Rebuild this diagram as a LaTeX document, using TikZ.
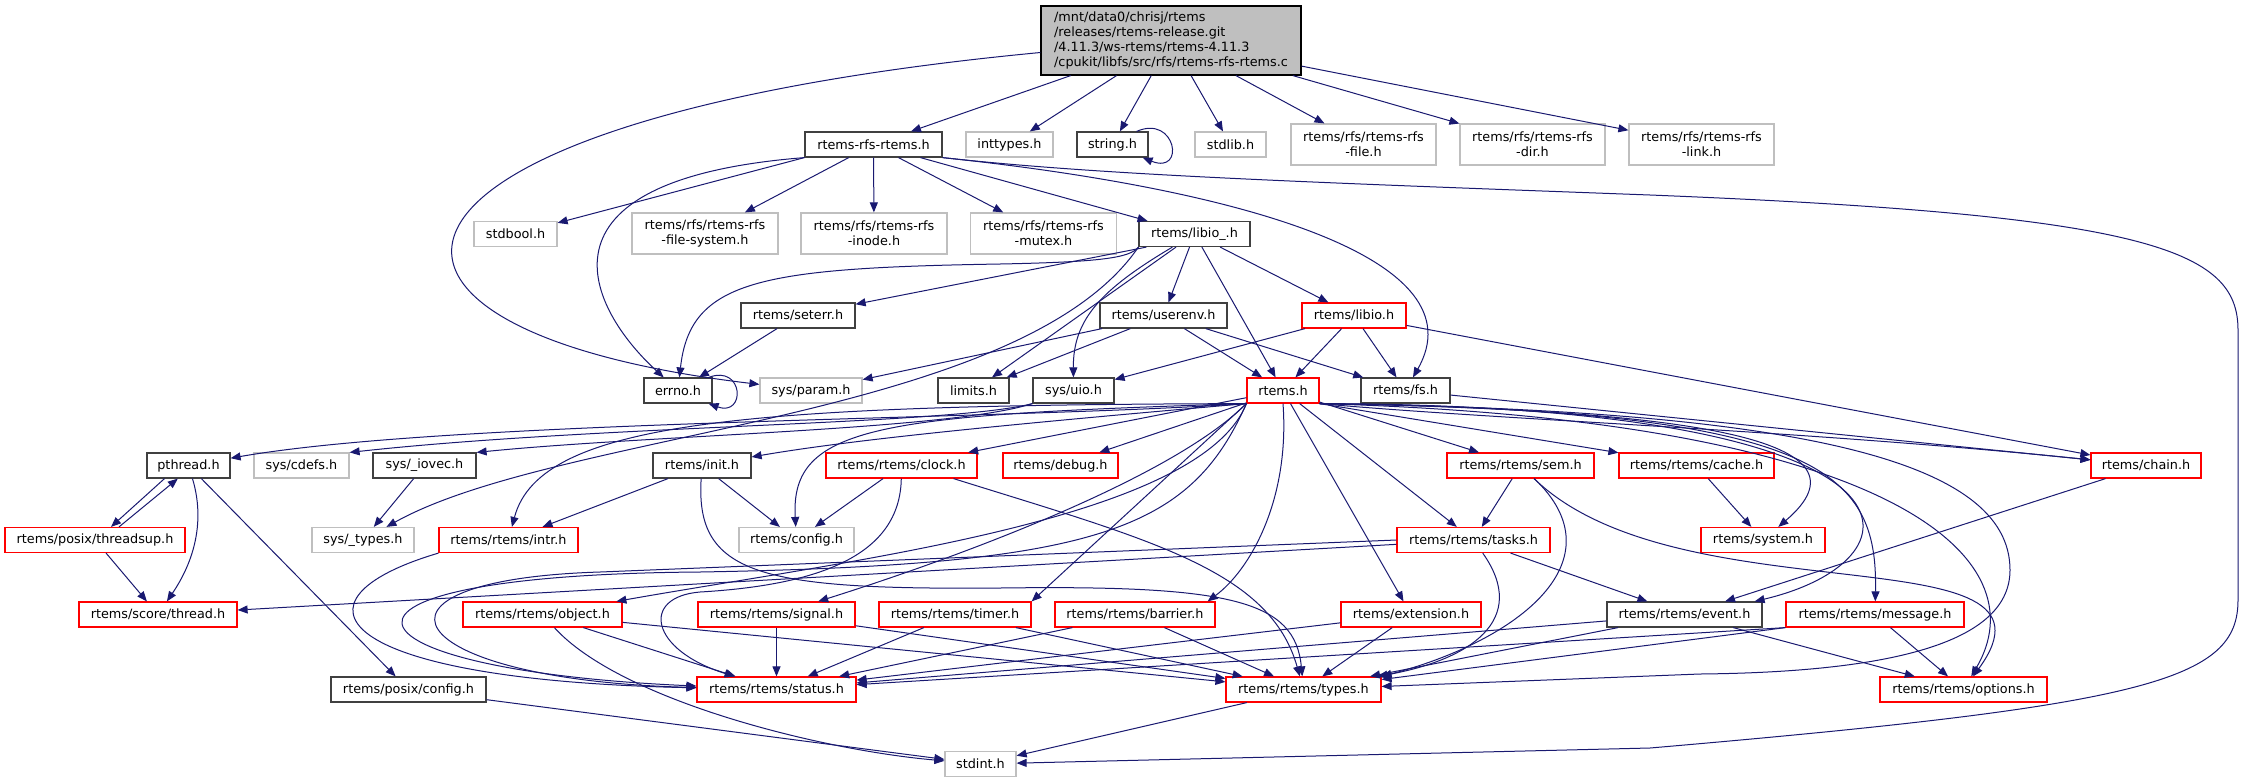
\documentclass[tikz,border=0pt]{standalone}
\usepackage{fontspec}
\setmainfont{DejaVu Sans}
\usetikzlibrary{arrows.meta}

\definecolor{incblue}{HTML}{191970}
\definecolor{hgray}{HTML}{BFBFBF}
\definecolor{hdark}{HTML}{404040}

\tikzset{
  hfile/.style={draw=hdark, line width=0.9pt, fill=white, inner sep=0pt,
    minimum height=18.75pt, align=center, font=\fontsize{9.6}{11.2}\selectfont},
  hgraybox/.style={hfile, draw=hgray},
  hredbox/.style={hfile, draw=red},
  boxw/.style={minimum width=#1*0.75pt},
  boxh/.style={minimum height=#1*0.75pt},
  inc/.style={draw=incblue, line width=0.75pt, -{Triangle[length=7.5pt, width=6pt]}},
}

\begin{document}
\begin{tikzpicture}[x=0.75pt, y=-0.75pt]
  \useasboundingbox (0,0) rectangle (2245,783);

  % Files
  \node[hfile, fill=hgray, draw=black, align=left, boxw=260, boxh=69] (root) at (1171,40.5)
    {/mnt/data0/chrisj/rtems\\/releases/rtems-release.git\\/4.11.3/ws-rtems/rtems-4.11.3\\/cpukit/libfs/src/rfs/rtems-rfs-rtems.c};
  \node[hfile, boxw=137] (rfsrtems) at (873.5,144.5) {rtems-rfs-rtems.h};
  \node[hgraybox, boxw=87] (inttypes) at (1009.5,144.5) {inttypes.h};
  \node[hfile, boxw=71] (stringh) at (1112.5,144.5) {string.h};
  \node[hgraybox, boxw=71] (stdlibh) at (1230.5,144.5) {stdlib.h};
  \node[hgraybox, boxw=145, boxh=41] (rfsfile) at (1363.5,144.5) {rtems/rfs/rtems-rfs\\-file.h};
  \node[hgraybox, boxw=145, boxh=41] (rfsdir) at (1532.5,144.5) {rtems/rfs/rtems-rfs\\-dir.h};
  \node[hgraybox, boxw=145, boxh=41] (rfslink) at (1701.5,144.5) {rtems/rfs/rtems-rfs\\-link.h};

  \node[hgraybox, boxw=83] (stdbool) at (515.5,234) {stdbool.h};
  \node[hgraybox, boxw=146, boxh=41] (rfsfs) at (705,233.5) {rtems/rfs/rtems-rfs\\-file-system.h};
  \node[hgraybox, boxw=146, boxh=41] (rfsinode) at (874,233.5) {rtems/rfs/rtems-rfs\\-inode.h};
  \node[hgraybox, boxw=146, boxh=41] (rfsmutex) at (1043.5,233.5) {rtems/rfs/rtems-rfs\\-mutex.h};
  \node[hfile, boxw=111] (libiopriv) at (1194.5,234) {rtems/libio\_.h};

  \node[hfile, boxw=114] (seterr) at (798,315.5) {rtems/seterr.h};
  \node[hfile, boxw=127] (userenv) at (1163.5,315.5) {rtems/userenv.h};
  \node[hredbox, boxw=104] (libio) at (1354,315.5) {rtems/libio.h};

  \node[hfile, boxw=68] (errno) at (678,390.5) {errno.h};
  \node[hgraybox, boxw=102] (sysparam) at (811,390.5) {sys/param.h};
  \node[hfile, boxw=71] (limits) at (973.5,390.5) {limits.h};
  \node[hfile, boxw=81] (sysuio) at (1073.5,390.5) {sys/uio.h};
  \node[hredbox, boxw=72] (rtemsh) at (1283,390.5) {rtems.h};
  \node[hfile, boxw=89] (fsh) at (1405.5,390.5) {rtems/fs.h};

  \node[hfile, boxw=83] (pthread) at (188.5,465.5) {pthread.h};
  \node[hgraybox, boxw=95] (syscdefs) at (301.5,465.5) {sys/cdefs.h};
  \node[hfile, boxw=103] (sysiovec) at (424.5,465.5) {sys/\_iovec.h};
  \node[hfile, boxw=98] (init) at (702,465.5) {rtems/init.h};
  \node[hredbox, boxw=151] (clock) at (901.5,465.5) {rtems/rtems/clock.h};
  \node[hredbox, boxw=115] (debug) at (1060.5,465.5) {rtems/debug.h};
  \node[hredbox, boxw=147] (sem) at (1520.5,465.5) {rtems/rtems/sem.h};
  \node[hredbox, boxw=155] (cache) at (1696.5,465.5) {rtems/rtems/cache.h};
  \node[hredbox, boxw=110] (chain) at (2146,465.5) {rtems/chain.h};

  \node[hredbox, boxw=180] (threadsup) at (95,540) {rtems/posix/threadsup.h};
  \node[hgraybox, boxw=102] (systypes) at (363,540) {sys/\_types.h};
  \node[hredbox, boxw=139] (intr) at (508.5,540) {rtems/rtems/intr.h};
  \node[hgraybox, boxw=115] (config) at (796.5,540) {rtems/config.h};
  \node[hredbox, boxw=153] (tasks) at (1473.5,540) {rtems/rtems/tasks.h};
  \node[hredbox, boxw=124] (system) at (1763,540) {rtems/system.h};

  \node[hredbox, boxw=158] (scthread) at (158,614.5) {rtems/score/thread.h};
  \node[hredbox, boxw=159] (object) at (542.5,614.5) {rtems/rtems/object.h};
  \node[hredbox, boxw=157] (signal) at (776.5,614.5) {rtems/rtems/signal.h};
  \node[hredbox, boxw=152] (timer) at (955,614.5) {rtems/rtems/timer.h};
  \node[hredbox, boxw=160] (barrier) at (1135,614.5) {rtems/rtems/barrier.h};
  \node[hredbox, boxw=140] (extension) at (1411,614.5) {rtems/extension.h};
  \node[hfile, boxw=155] (event) at (1684.5,614.5) {rtems/rtems/event.h};
  \node[hredbox, boxw=178] (message) at (1875,614.5) {rtems/rtems/message.h};

  \node[hfile, boxw=155] (posixconfig) at (408.5,689.5) {rtems/posix/config.h};
  \node[hredbox, boxw=159] (status) at (776.5,689.5) {rtems/rtems/status.h};
  \node[hredbox, boxw=155] (types) at (1303.5,689.5) {rtems/rtems/types.h};
  \node[hredbox, boxw=167] (options) at (1963.5,689.5) {rtems/rtems/options.h};

  \node[hgraybox, boxw=71] (stdint) at (980.5,764) {stdint.h};

  % Straight includes
  \foreach \s/\t in {root/rfsrtems, root/inttypes, root/stringh, root/stdlibh,
      root/rfsfile, root/rfsdir, root/rfslink,
      rfsrtems/rfsfs, rfsrtems/rfsinode, rfsrtems/rfsmutex, rfsrtems/libiopriv,
      libiopriv/limits, libiopriv/userenv, libiopriv/libio, libiopriv/rtemsh,
      userenv/sysparam, userenv/limits, userenv/rtemsh, userenv/fsh,
      libio/sysuio, libio/rtemsh, libio/fsh, libio/chain, fsh/chain,
      seterr/errno, sysiovec/systypes, pthread/posixconfig, threadsup/scthread,
      rtemsh/clock, rtemsh/debug, rtemsh/sem, rtemsh/tasks, rtemsh/extension,
      init/intr, init/config, clock/config, cache/system, sem/tasks,
      object/status, object/types, signal/status, signal/types,
      timer/status, timer/types, barrier/status, barrier/types,
      extension/status, extension/types, tasks/scthread, tasks/event,
      chain/event, event/status, event/types, event/options,
      message/options, types/stdint, posixconfig/stdint}
    \draw[inc] (\s) -- (\t);

  \draw[inc] (rfsrtems.south west) -- (stdbool);
  \draw[inc] ([xshift=6pt]libiopriv.south west) -- (seterr);
  \draw[inc] (rtemsh.south east) -- (cache);
  \draw[inc] (rtemsh.south west) -- (timer.north east);
  \draw[inc] (message.south west) -- (status);
  \draw[inc] (message.south west) -- (types);
  \draw[inc] ([xshift=-18pt]pthread.south) -- ([xshift=12pt]threadsup.north);
  \draw[inc] ([xshift=18pt]threadsup.north) -- ([xshift=-8pt]pthread.south);

  % Self includes
  \draw[inc] ([xshift=-9pt]stringh.north east) .. controls (1176,114) and (1186,175) .. ([xshift=-4.5pt]stringh.south east);
  \draw[inc] ([xshift=-3pt]errno.north east) .. controls (744,364) and (746,417) .. ([xshift=-3pt]errno.south east);

  % Curved includes
  \draw[inc] ([yshift=-9pt]root.west) .. controls (330,120) and (300,330) .. (sysparam);
  \draw[inc] (rfsrtems.south west) .. controls (520,180) and (590,310) .. (errno);
  \draw[inc] (rfsrtems.south east) .. controls (1250,190) and (1480,260) .. (fsh);
  \draw[inc] (rfsrtems.south east) .. controls (1100,175) and (1300,182) .. (1650,195)
    .. controls (2150,215) and (2238,250) .. (2238,330) -- (2238,600)
    .. controls (2238,680) and (2150,705) .. (1650,748) -- (stdint);
  \draw[inc] (libiopriv.south west) .. controls (1130,258) and (1100,262) .. (1000,264)
    .. controls (760,268) and (690,280) .. (errno);
  \draw[inc] (libiopriv) .. controls (1100,290) and (1073,320) .. (sysuio);
  \draw[inc] (libiopriv.south west) .. controls (1020,420) and (560,430) .. (systypes);
  \draw[inc] (rtemsh.south west) .. controls (1000,420) and (450,420) .. (pthread);
  \draw[inc] (sysuio.south west) .. controls (950,425) and (600,425) .. (syscdefs.north east);
  \draw[inc] (sysuio.south west) .. controls (950,430) and (650,435) .. (sysiovec.north east);
  \draw[inc] (pthread) .. controls (205,520) and (195,560) .. (scthread);
  \draw[inc] (rtemsh.south west) .. controls (1000,425) and (850,440) .. (init);
  \draw[inc] (rtemsh.south west) .. controls (750,405) and (540,420) .. (intr);
  \draw[inc] (rtemsh.south west) .. controls (880,415) and (790,425) .. (config);
  \draw[inc] (rtemsh.south west) .. controls (1200,520) and (850,560) .. (object);
  \draw[inc] (rtemsh.south west) .. controls (1170,480) and (950,560) .. (signal);
  \draw[inc] (rtemsh.south) .. controls (1290,500) and (1250,570) .. ([xshift=-6pt]barrier.north east);
  \draw[inc] (rtemsh.south west) .. controls (1190,530) and (1100,565) .. (700,572)
    .. controls (280,575) and (330,670) .. (status);
  \draw[inc] (rtemsh.south east) .. controls (1500,420) and (1800,430) .. (chain);
  \draw[inc] (rtemsh.south east) .. controls (1700,410) and (1880,440) .. (system);
  \draw[inc] (rtemsh.south east) .. controls (1950,405) and (1930,560) .. ([xshift=-6pt]event.north east);
  \draw[inc] (rtemsh.south east) .. controls (1820,410) and (1878,470) .. (message);
  \draw[inc] (rtemsh.south east) .. controls (1900,420) and (2040,560) .. (options);
  \draw[inc] (rtemsh.south east) .. controls (1800,410) and (2010,460) .. (2010,570)
    .. controls (2010,640) and (1900,672) .. (1700,674) -- (types);
  \draw[inc] (init) .. controls (695,575) and (760,590) .. (1000,588)
    .. controls (1230,585) and (1295,600) .. (types);
  \draw[inc] (clock) .. controls (900,555) and (820,585) .. (700,592)
    .. controls (640,597) and (650,650) .. (status);
  \draw[inc] ([xshift=-18pt]clock.south east) .. controls (1150,540) and (1270,570) .. (types);
  \draw[inc] (intr.south west) .. controls (280,600) and (330,680) .. (status);
  \draw[inc] (object) .. controls (620,700) and (820,750) .. (stdint);
  \draw[inc] (sem) .. controls (1620,560) and (1520,640) .. (types.north east);
  \draw[inc] (sem) .. controls (1680,620) and (2080,530) .. (options);
  \draw[inc] (tasks.west) -- (600,572) .. controls (340,580) and (400,680) .. (status);
  \draw[inc] (tasks) .. controls (1530,620) and (1470,660) .. (types);
\end{tikzpicture}
\end{document}
